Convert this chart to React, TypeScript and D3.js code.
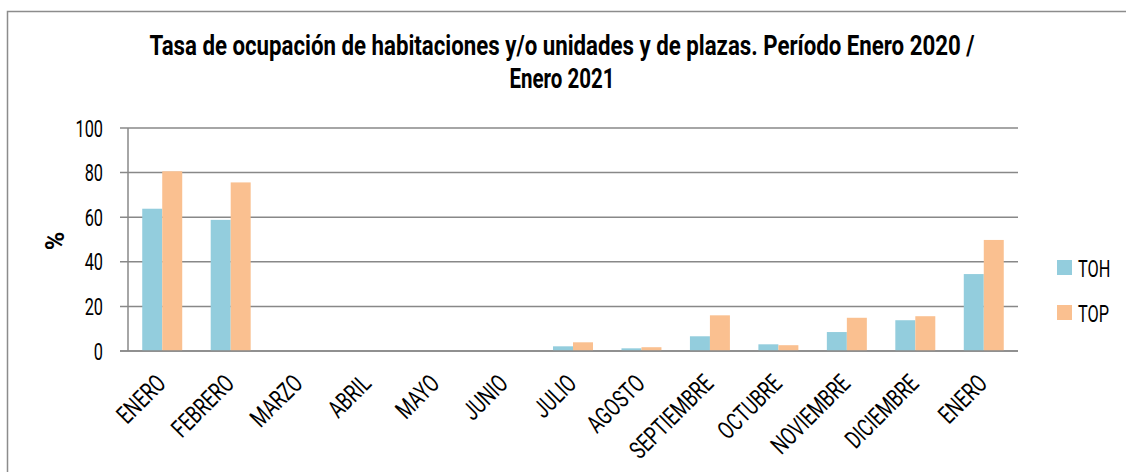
import React from "react";
import * as d3 from "d3";

const categories = ["ENERO","FEBRERO","MARZO","ABRIL","MAYO","JUNIO","JULIO","AGOSTO","SEPTIEMBRE","OCTUBRE","NOVIEMBRE","DICIEMBRE","ENERO"];
const toh = [63.8, 58.8, 0, 0, 0, 0, 2.1, 1.2, 6.6, 3.0, 8.5, 13.8, 34.5];
const top = [80.6, 75.6, 0, 0, 0, 0, 3.9, 1.7, 16.0, 2.6, 14.9, 15.6, 49.8];
const seriesNames = ["TOH", "TOP"];
const yTicks = [0, 20, 40, 60, 80, 100];
const titleLines = ["Tasa de ocupación de habitaciones y/o unidades y de plazas. Período Enero 2020 /", "Enero 2021"];

const W = 1126, H = 472;
const FONT = "Roboto, 'DejaVu Sans Condensed', sans-serif";
const colors = ["#93cddd", "#fac090"];
const SX = 0.68;

function CText(props: { x: number; y: number; rot?: number; anchor?: string; size: number; bold?: boolean; sx?: number; children: React.ReactNode; len?: number }) {
  const { x, y, rot = 0, anchor = "start", size, bold, sx = SX, children, len } = props;
  return (
    <text transform={`translate(${x},${y}) rotate(${rot}) scale(${sx},1)`} textAnchor={anchor} fontSize={size}
      fontWeight={bold ? "bold" : "normal"} fill="#000"
      {...(len ? { textLength: len / sx, lengthAdjust: "spacingAndGlyphs" } : {})}>{children}</text>
  );
}

export default function App() {
  const x0 = d3.scaleBand<number>().domain(categories.map((_, i) => i)).range([128, 1018]).paddingInner(0.416).paddingOuter(0.208);
  const x1 = d3.scaleBand<string>().domain(seriesNames).range([0, x0.bandwidth()]);
  const y = d3.scaleLinear().domain([0, 100]).range([351, 128]);
  const data = [toh, top];
  return (
    <svg width={W} height={H} style={{ position: "absolute", left: 0, top: 0, background: "#fff" }} fontFamily={FONT}>
      <rect x={7.5} y={11.5} width={1200} height={600} fill="#fff" stroke="#8c8c8c" strokeWidth={1.5} />
      <CText x={562} y={55} anchor="middle" size={27} bold sx={0.72} len={825}>{titleLines[0]}</CText>
      <CText x={562} y={88} anchor="middle" size={27} bold sx={0.72} len={105}>{titleLines[1]}</CText>
      {yTicks.map(t => (
        <g key={t}>
          <line x1={120} x2={1018} y1={y(t)} y2={y(t)} stroke="#888" strokeWidth={1.5} />
          <CText x={103} y={y(t) + 8.5} anchor="end" size={24}>{t}</CText>
        </g>
      ))}
      <line x1={128} x2={128} y1={y(100)} y2={y(0)} stroke="#888" strokeWidth={1.5} />
      <text transform={`translate(64,241) rotate(-90)`} textAnchor="middle" fontSize={25} fontWeight="bold" fill="#000">%</text>
      {data.map((vals, s) => vals.map((v, i) => (
        <rect key={`${s}-${i}`} x={(x0(i) ?? 0) + (x1(seriesNames[s]) ?? 0)} width={x1.bandwidth()}
          y={y(v)} height={y(0) - y(v)} fill={colors[s]} />
      )))}
      <line x1={120} x2={1018} y1={y(0)} y2={y(0)} stroke="#888" strokeWidth={1.5} />
      {categories.map((c, i) => {
        const cx = (x0(i) ?? 0) + x0.bandwidth() / 2;
        return (
          <CText key={i} x={cx + 5} y={385} rot={-45} anchor="end" size={25} sx={0.72}>{c}</CText>
        );
      })}
      {seriesNames.map((n, s) => (
        <g key={n}>
          <rect x={1057} y={260 + s * 45} width={15} height={15} fill={colors[s]} />
          <CText x={1078} y={277 + s * 45} size={24}>{n}</CText>
        </g>
      ))}
    </svg>
  );
}
